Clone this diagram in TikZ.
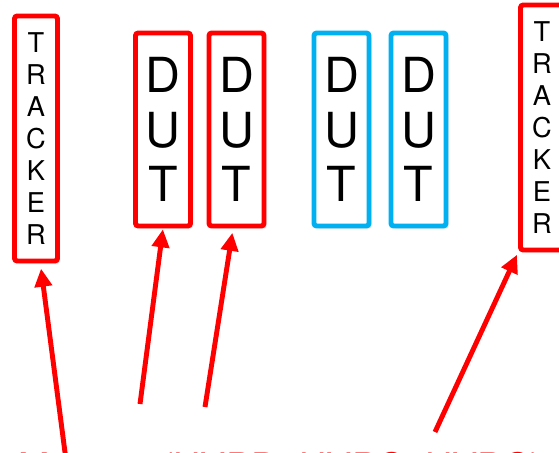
\documentclass[tikz,border=0pt]{standalone}
\usepackage{fontspec}
\setmainfont{TeX Gyre Heros}
\usetikzlibrary{arrows.meta,shadows}
\definecolor{dutblue}{RGB}{0,176,240}
\begin{document}
\begin{tikzpicture}[x=0.02cm,y=-0.02cm,
  box/.style={draw=red,line width=2.8pt,rounded corners=1.5pt,fill=white,align=center,inner sep=0pt,
    drop shadow={shadow xshift=1.5pt,shadow yshift=-1.5pt,opacity=0.2}},
  trk/.style={box,minimum width=0.86cm,minimum height=4.9cm,font=\fontsize{15.5}{18.2}\selectfont},
  dut/.style={box,minimum width=1.1cm,minimum height=3.86cm,font=\fontsize{27.5}{31.2}\selectfont},
  arr/.style={red,line width=2.8pt,-{Triangle[length=0.36cm,width=0.34cm]}}]
\useasboundingbox (0,0) rectangle (559,453);
\clip (0,0) rectangle (559,453);
\node[trk] (trkL) at (36,138.5) {T\\R\\A\\C\\K\\E\\R};
\foreach \nm/\px/\col in {dut1/163/red,dut2/236.5/red,dut3/341.5/dutblue,dut4/418.5/dutblue} {
  \node[dut,draw=\col] (\nm) at (\px,129.5) {D\\U\\T};
}
\node[trk] (trkR) at (542,127.5) {T\\R\\A\\C\\K\\E\\R};
\node[red,anchor=base west,inner sep=0pt,font=\fontsize{21.5}{24}\selectfont] (label) at (18,480) {Mimosa (HVPD, HVPC, HVPC)};
% arrows from the label up to the boxes
\coordinate (t1) at (66,460);
\coordinate (t2) at (140,404);
\coordinate (t3) at (205,407);
\coordinate (t4) at (435,432);
\draw[arr,shorten >=3pt] (t1) -- (trkL.-88);
\draw[arr,shorten >=0.5pt] (t2) -- (dut1.south);
\draw[arr,shorten >=2.5pt] (t3) -- (dut2.-92);
\draw[arr,shorten >=1.5pt] (t4) -- (trkR.south west);
\end{tikzpicture}
\end{document}
